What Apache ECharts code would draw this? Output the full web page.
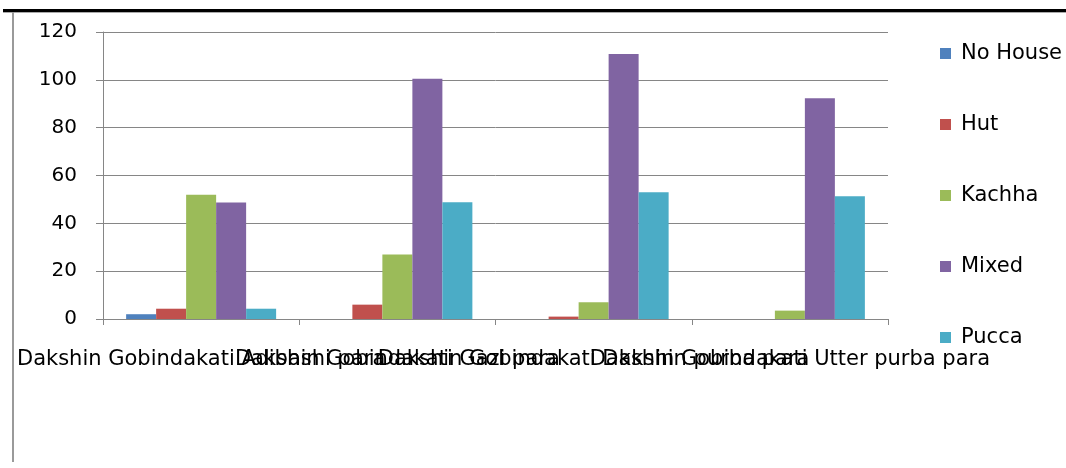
<!DOCTYPE html>
<html>
<head>
<meta charset="utf-8">
<script src="https://cdn.jsdelivr.net/npm/echarts@6/dist/echarts.min.js"></script>
<style>
html,body{margin:0;padding:0;background:#fff;}
#c{width:1066px;height:468px;}
</style>
</head>
<body>
<div id="c"></div>
<script>
const categories = [
  "Dakshin Gobindakati Adibashi para",
  "Dakshin Gobindakati Gazi para",
  "Dakshin Gobindakati Dakshin purba para",
  "Dakshin Gobindakati Utter purba para"
];
const seriesNames = ["No House", "Hut", "Kachha", "Mixed", "Pucca"];
const noHouse = [2, 0, 0, 0];
const hut = [4.3, 6, 1, 0];
const kachha = [52, 27, 7, 3.5];
const mixed = [48.7, 100.5, 110.8, 92.3];
const pucca = [4.3, 48.8, 53, 51.3];
const yTicks = [0, 20, 40, 60, 80, 100, 120];
const colors = ["#4F81BD", "#C0504D", "#9BBB59", "#8064A2", "#4BACC6"];

const values = [noHouse, hut, kachha, mixed, pucca];
const FONT = "'DejaVu Sans', sans-serif";
const chart = echarts.init(document.getElementById('c'), null, {renderer: 'canvas'});
chart.setOption({
  animation: false,
  backgroundColor: '#fff',
  color: colors,
  graphic: [
    {type: 'rect', shape: {x: 3, y: 9, width: 1063, height: 3}, style: {fill: '#000'}},
    {type: 'rect', shape: {x: 3, y: 12, width: 1063, height: 1}, style: {fill: '#aaa'}},
    {type: 'rect', shape: {x: 12, y: 12, width: 2, height: 450}, style: {fill: '#9a9a9a'}}
  ],
  grid: {left: 103, right: 178, top: 32, bottom: 149, containLabel: false},
  legend: {
    orient: 'vertical',
    left: 935,
    top: 38,
    itemWidth: 11,
    itemHeight: 11,
    itemGap: 50,
    icon: 'rect',
    textStyle: {fontFamily: FONT, fontSize: 21, color: '#000', padding: [0, 0, 0, 5]},
    data: seriesNames
  },
  xAxis: {
    type: 'category',
    data: categories,
    boundaryGap: true,
    axisLine: {show: true, lineStyle: {color: '#868686', width: 1}},
    axisTick: {show: true, length: 6, alignWithLabel: false, lineStyle: {color: '#868686'}},
    axisLabel: {interval: 0, margin: 30, fontFamily: FONT, fontSize: 21, color: '#000', hideOverlap: false}
  },
  yAxis: {
    type: 'value',
    min: yTicks[0],
    max: yTicks[yTicks.length - 1],
    interval: 20,
    axisLine: {show: true, lineStyle: {color: '#868686', width: 1}},
    axisTick: {show: true, length: 7, lineStyle: {color: '#868686'}},
    splitLine: {show: true, lineStyle: {color: '#868686', width: 1}},
    axisLabel: {margin: 26, fontFamily: FONT, fontSize: 20, color: '#000'}
  },
  series: seriesNames.map((n, i) => ({
    name: n,
    type: 'bar',
    data: values[i],
    barWidth: 30,
    barGap: '0%',
    itemStyle: {color: colors[i]}
  }))
});
</script>
</body>
</html>
